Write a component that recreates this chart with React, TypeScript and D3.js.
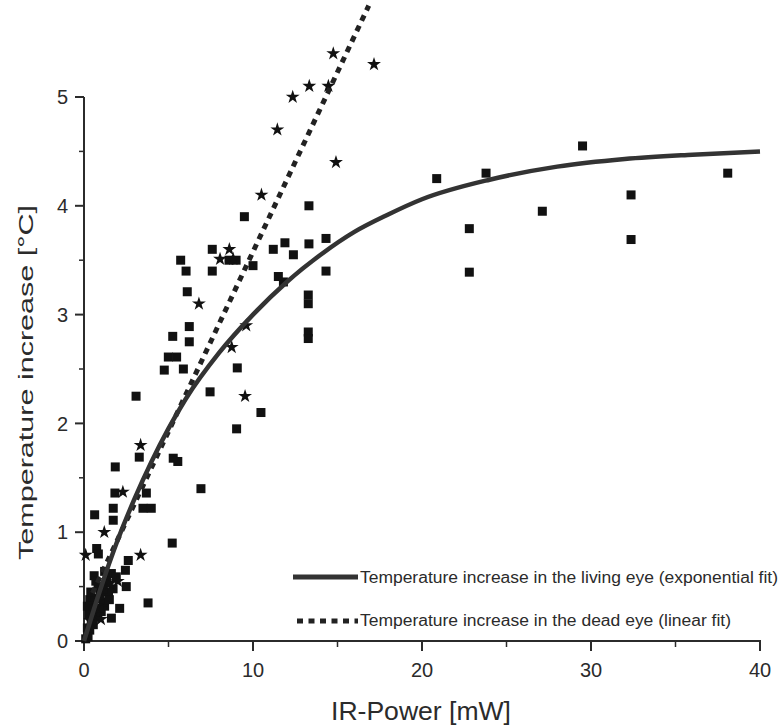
import React from "react";
import * as d3 from "d3";

// Living eye measurements (squares): [IR power mW, temperature increase °C]
const livingX = [0.1, 0.24, 0.34, 0.43, 0.73, 1.62, 0.53, 1.02, 1.22, 2.11, 0.34, 0.63, 1.12, 3.79, 0.83, 1.72, 2.5, 1.22, 1.62, 1.91, 2.45, 2.62, 0.75, 0.85, 5.22, 0.63, 1.73, 1.73, 1.83, 3.49, 3.98, 3.69, 1.85, 3.27, 5.28, 5.55, 6.92, 3.08, 7.46, 10.47, 9.03, 4.75, 5.88, 9.07, 4.99, 5.48, 5.25, 6.23, 6.23, 6.11, 5.72, 6.04, 7.59, 7.59, 8.58, 9.0, 9.49, 10.0, 11.2, 11.89, 12.39, 13.31, 14.32, 14.32, 11.5, 11.8, 13.31, 13.27, 13.27, 13.27, 13.27, 20.87, 23.79, 22.8, 22.8, 27.12, 29.5, 32.37, 32.37, 38.09, 0.45, 0.95, 1.35, 1.45, 0.2, 0.6, 0.3, 0.55, 0.9, 1.1, 0.4, 1.5, 0.7, 0.2];
const livingY = [0.02, 0.04, 0.1, 0.19, 0.22, 0.21, 0.28, 0.27, 0.32, 0.3, 0.38, 0.39, 0.36, 0.35, 0.5, 0.48, 0.5, 0.64, 0.62, 0.59, 0.65, 0.74, 0.85, 0.8, 0.9, 1.16, 1.11, 1.22, 1.36, 1.22, 1.22, 1.36, 1.6, 1.69, 1.68, 1.65, 1.4, 2.25, 2.29, 2.1, 1.95, 2.49, 2.5, 2.51, 2.61, 2.61, 2.8, 2.89, 2.75, 3.21, 3.5, 3.4, 3.6, 3.4, 3.5, 3.5, 3.9, 3.45, 3.6, 3.66, 3.55, 3.65, 3.7, 3.4, 3.35, 3.3, 4.0, 3.18, 3.1, 2.84, 2.78, 4.25, 4.3, 3.79, 3.39, 3.95, 4.55, 4.1, 3.69, 4.3, 0.3, 0.42, 0.55, 0.45, 0.12, 0.6, 0.25, 0.15, 0.3, 0.48, 0.45, 0.38, 0.55, 0.32];

// Dead eye measurements (stars)
const deadX = [0.1, 1.2, 2.3, 3.35, 3.35, 1.54, 0.75, 0.36, 1.0, 2.0, 6.8, 8.05, 8.6, 8.83, 9.53, 8.74, 9.6, 10.5, 11.44, 12.35, 13.33, 14.46, 14.75, 17.16, 14.91];
const deadY = [0.79, 1.0, 1.37, 1.8, 0.79, 0.53, 0.32, 0.19, 0.2, 0.55, 3.1, 3.51, 3.6, 3.51, 2.25, 2.7, 2.9, 4.1, 4.7, 5.0, 5.1, 5.1, 5.4, 5.3, 4.4];

// Exponential fit (living eye)
const livingFitX = [0, 1, 2, 3, 4, 6, 8, 10, 12, 14, 16, 18, 20, 24, 28, 32, 36, 40];
const livingFitY = [0, 0.49, 0.93, 1.31, 1.65, 2.22, 2.65, 3.0, 3.3, 3.55, 3.76, 3.92, 4.06, 4.24, 4.36, 4.43, 4.47, 4.5];

// Linear fit (dead eye)
const deadFitX = [0.5, 16.85];
const deadFitY = [0.44, 5.84];

const xTicks = [0, 10, 20, 30, 40];
const xMinor = [5, 15, 25, 35];
const yTicks = [0, 1, 2, 3, 4, 5];
const yMinor = [0.5, 1.5, 2.5, 3.5, 4.5];

const xTitle = "IR-Power [mW]";
const yTitle = "Temperature increase [°C]";
const legendLabels = [
  "Temperature increase in the living eye (exponential fit)",
  "Temperature increase in the dead eye (linear fit)",
];

export default function App() {
  const W = 781, H = 725;
  const x = d3.scaleLinear().domain([0, 40]).range([84, 760]);
  const y = d3.scaleLinear().domain([0, 5]).range([641, 97]);
  const font = "Arial, 'Liberation Sans', Helvetica, sans-serif";
  const ink = "#2b2b2b";

  const livingPath = d3
    .line<[number, number]>()
    .x((d) => x(d[0]))
    .y((d) => y(d[1]))
    .curve(d3.curveMonotoneX)(livingFitX.map((v, i) => [v, livingFitY[i]] as [number, number]));
  const deadPath = d3
    .line<[number, number]>()
    .x((d) => x(d[0]))
    .y((d) => y(d[1]))(deadFitX.map((v, i) => [v, deadFitY[i]] as [number, number]));
  const star = d3.symbol().type(d3.symbolStar).size(60)();
  const sq = 9;

  return (
    <svg
      width={W}
      height={H}
      style={{ position: "absolute", left: 0, top: 0, background: "#fff" }}
      fontFamily={font}
    >
      <rect width={W} height={H} fill="#fff" />
      {/* axes */}
      <line x1={x(0)} x2={x(0)} y1={y(0)} y2={y(5)} stroke={ink} strokeWidth={2} />
      <line x1={x(0) - 1} x2={x(40) + 1} y1={y(0)} y2={y(0)} stroke={ink} strokeWidth={2} />
      {yTicks.map((t) => (
        <g key={"yt" + t}>
          <line x1={x(0) - 9} x2={x(0)} y1={y(t)} y2={y(t)} stroke={ink} strokeWidth={2} />
          <text x={68} y={y(t)} dy="0.36em" textAnchor="end" fontSize={20} fill={ink}>
            {t}
          </text>
        </g>
      ))}
      {yMinor.map((t) => (
        <line key={"ym" + t} x1={x(0) - 5} x2={x(0)} y1={y(t)} y2={y(t)} stroke={ink} strokeWidth={1.5} />
      ))}
      {xTicks.map((t) => (
        <g key={"xt" + t}>
          <line x1={x(t)} x2={x(t)} y1={y(0)} y2={y(0) + 10} stroke={ink} strokeWidth={2} />
          <text x={x(t)} y={677} textAnchor="middle" fontSize={20} fill={ink}>
            {t}
          </text>
        </g>
      ))}
      {xMinor.map((t) => (
        <line key={"xm" + t} x1={x(t)} x2={x(t)} y1={y(0)} y2={y(0) + 6} stroke={ink} strokeWidth={1.5} />
      ))}
      {/* titles */}
      <text x={331} y={720} fontSize={25} fill={ink} textLength={180} lengthAdjust="spacingAndGlyphs">
        {xTitle}
      </text>
      <text
        transform="translate(33,560) rotate(-90)"
        x={0}
        y={0}
        fontSize={21}
        fill={ink}
        textLength={355}
        lengthAdjust="spacingAndGlyphs"
      >
        {yTitle}
      </text>
      {/* points */}
      {livingX.map((v, i) => (
        <rect
          key={"l" + i}
          x={x(v) - sq / 2}
          y={y(livingY[i]) - sq / 2}
          width={sq}
          height={sq}
          fill="#111"
        />
      ))}
      {deadX.map((v, i) => (
        <path key={"d" + i} d={star || ""} transform={`translate(${x(v)},${y(deadY[i])})`} fill="#111" />
      ))}
      {/* fits */}
      <path d={deadPath || ""} fill="none" stroke="#222" strokeWidth={5} strokeDasharray="6 5.5" />
      <path d={livingPath || ""} fill="none" stroke="#333" strokeWidth={4.5} />
      {/* legend */}
      <line x1={293} x2={358} y1={577} y2={577} stroke="#333" strokeWidth={5} />
      <text x={360} y={583} fontSize={16} fill={ink} textLength={418} lengthAdjust="spacingAndGlyphs">
        {legendLabels[0]}
      </text>
      <line x1={297} x2={358} y1={621} y2={621} stroke="#222" strokeWidth={5} strokeDasharray="6 5.5" />
      <text x={360} y={626} fontSize={16} fill={ink} textLength={371} lengthAdjust="spacingAndGlyphs">
        {legendLabels[1]}
      </text>
    </svg>
  );
}
